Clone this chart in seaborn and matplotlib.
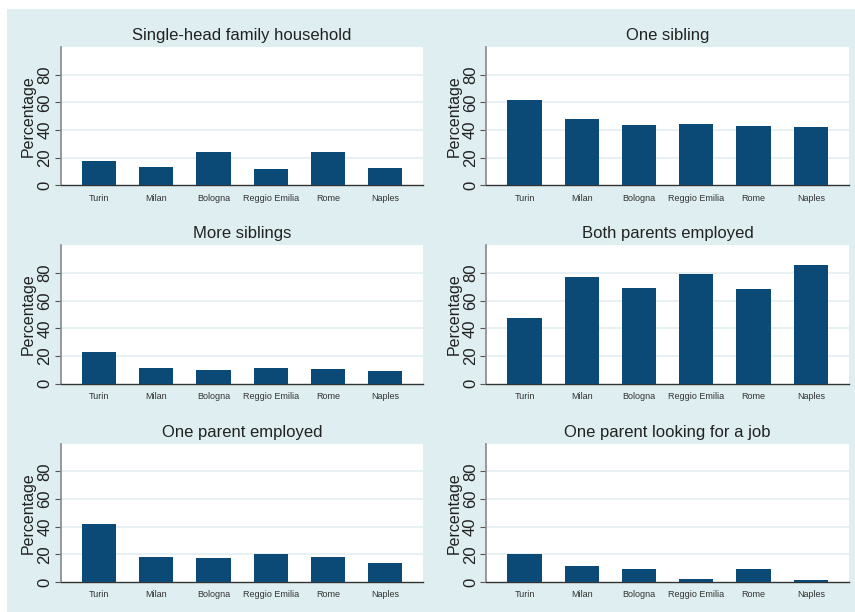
import matplotlib
matplotlib.use("Agg")
import matplotlib.pyplot as plt
import pandas as pd
import seaborn as sns

cities = ["Turin", "Milan", "Bologna", "Reggio Emilia", "Rome", "Naples"]

titles = ["Single-head family household", "One sibling",
          "More siblings", "Both parents employed",
          "One parent employed", "One parent looking for a job"]

single_head = [17.6, 13.2, 23.9, 12.2, 23.9, 12.7]
one_sibling = [62.0, 47.8, 43.4, 44.1, 42.7, 42.2]
more_siblings = [23.0, 11.4, 9.7, 11.4, 10.9, 9.2]
both_employed = [47.8, 77.3, 69.1, 79.0, 68.4, 85.5]
one_employed = [41.6, 18.1, 17.1, 20.3, 18.1, 13.9]
one_looking = [20.3, 11.5, 9.3, 2.2, 9.3, 1.5]

series = [single_head, one_sibling, more_siblings,
          both_employed, one_employed, one_looking]

BG = "#deeef1"
BAR = "#0b4a76"
GRID = "#e3eef0"

sns.set_style("white")
plt.rcParams['font.family'] = ['Liberation Sans', 'DejaVu Sans']

fig, axes = plt.subplots(3, 2, figsize=(8.55, 6.12), dpi=100)
fig.patch.set_facecolor("white")
# light bluish graph region, leaving a thin white margin top/left
fig.patches.append(plt.Rectangle((7 / 855, 0), 1 - 7 / 855, 1 - 9 / 612,
                                  transform=fig.transFigure,
                                  facecolor=BG, edgecolor="none", zorder=-10))
fig.subplots_adjust(left=0.071, right=0.993, top=0.923, bottom=0.049,
                    wspace=0.173, hspace=0.433)

for ax, title, vals in zip(axes.ravel(), titles, series):
    df = pd.DataFrame({"city": cities, "pct": vals})
    sns.barplot(data=df, x="city", y="pct", ax=ax, color=BAR,
                saturation=1, width=0.6, edgecolor="none", zorder=3)
    ax.set_facecolor("white")
    ax.set_xlim(-0.667, 5.667)
    ax.set_ylim(0, 100)
    ax.set_yticks([0, 20, 40, 60, 80])
    ax.set_yticklabels(["0", "20", "40", "60", "80"], rotation=90,
                       va="center", fontsize=12, color="#222222")
    for y in [20, 40, 60, 80]:
        ax.axhline(y, color=GRID, lw=1.2, zorder=1)
    ax.tick_params(axis="y", length=4, width=0.8, color="#555555", pad=2,
                   left=True)
    ax.tick_params(axis="x", length=0, pad=6, labelsize=6.5,
                   labelcolor="#333333")
    ax.set_xlabel("")
    ax.set_ylabel("Percentage", fontsize=11.5, color="#222222", labelpad=1)
    ax.set_title(title, fontsize=12, color="#222222", pad=5)
    for s in ["top", "right"]:
        ax.spines[s].set_visible(False)
    ax.spines["left"].set_color("#888888")
    ax.spines["left"].set_linewidth(1.2)
    ax.spines["bottom"].set_color("#333333")
    ax.spines["bottom"].set_linewidth(1.0)

fig.savefig("out.png", dpi=100)
